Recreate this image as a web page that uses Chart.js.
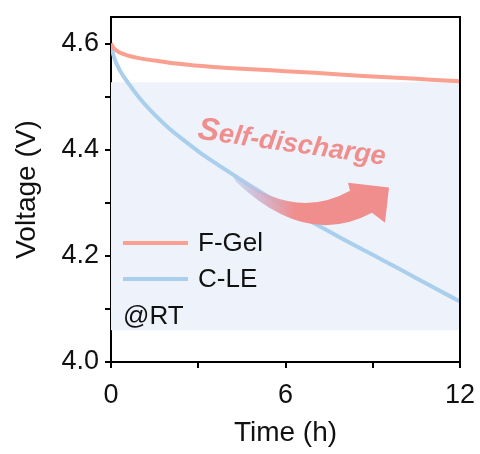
<!DOCTYPE html>
<html>
<head>
<meta charset="utf-8">
<script src="https://cdn.jsdelivr.net/npm/chart.js@4.4.1/dist/chart.umd.min.js"></script>
<style>
  html, body { margin: 0; padding: 0; background: #fff; }
</style>
</head>
<body>
<canvas id="chart" width="480" height="454"></canvas>
<script>
// data
const timeH = [0, 0.1, 0.3, 0.6, 1, 1.5, 2, 2.5, 3, 3.5, 4, 5, 6, 7, 8, 9, 10, 11, 12];
const fGel  = [4.600, 4.591, 4.583, 4.577, 4.572, 4.568, 4.564, 4.561, 4.558, 4.556, 4.554,
               4.551, 4.548, 4.545, 4.541, 4.538, 4.535, 4.532, 4.529];
const cLE   = [4.597, 4.575, 4.550, 4.525, 4.496, 4.466, 4.440, 4.418, 4.397, 4.378, 4.360,
               4.325, 4.292, 4.261, 4.231, 4.202, 4.173, 4.143, 4.114];
const seriesNames = ["F-Gel", "C-LE"];
const xTicks = [0, 3, 6, 9, 12];
const xLabels = [0, 6, 12];
const yTicks = [4.0, 4.1, 4.2, 4.3, 4.4, 4.5, 4.6];
const yLabels = ["4.0", "4.2", "4.4", "4.6"];

const RED = "#f9a090";
const BLUE = "#a9cfec";
const ARROW = "rgb(240,142,142)";
const FONT = "'Liberation Sans', Arial, sans-serif";
const tickFont = { family: FONT, size: 27 };
const titleFont = { family: FONT, size: 28 };

const ctx = document.getElementById("chart").getContext("2d");

// shaded box behind the curves, frame, arrow, label and legend
const decor = {
  id: "decor",
  beforeDatasetsDraw(chart) {
    const { ctx, scales: { x, y } } = chart;
    ctx.save();
    ctx.fillStyle = "#eef2fa";
    const x0 = x.getPixelForValue(0), x1 = x.getPixelForValue(12);
    const y0 = y.getPixelForValue(4.527), y1 = y.getPixelForValue(4.06);
    ctx.fillRect(x0, y0, x1 - x0, y1 - y0);
    ctx.restore();
  },
  afterDatasetsDraw(chart) {
    const { ctx, chartArea: a, scales: { x, y } } = chart;
    const P = (t, v) => [x.getPixelForValue(t), y.getPixelForValue(v)];

    // curved arrow
    ctx.save();
    const g = ctx.createLinearGradient(P(4.1, 0)[0], 0, P(6.3, 0)[0], 0);
    g.addColorStop(0, "rgba(169,207,236,0.6)");
    g.addColorStop(0.4, "rgba(205,180,210,0.85)");
    g.addColorStop(1, ARROW);
    ctx.fillStyle = g;
    ctx.beginPath();
    ctx.moveTo(...P(4.092, 4.3585));
    ctx.quadraticCurveTo(...P(6.292, 4.2632), ...P(8.218, 4.3226));
    ctx.lineTo(...P(8.149, 4.3377));
    ctx.lineTo(...P(9.559, 4.3289));
    ctx.lineTo(...P(9.421, 4.2623));
    ctx.lineTo(...P(8.974, 4.2811));
    ctx.quadraticCurveTo(...P(6.705, 4.2142), ...P(4.298, 4.3396));
    ctx.closePath();
    ctx.fill();
    ctx.restore();

    // "Self-discharge" label
    ctx.save();
    const [tx, ty] = P(6.22, 4.413);
    ctx.translate(tx, ty);
    ctx.rotate(8 * Math.PI / 180);
    ctx.fillStyle = ARROW;
    ctx.textBaseline = "alphabetic";
    const bigS = "italic bold 32px " + FONT;
    const rest = "italic bold 27px " + FONT;
    ctx.font = bigS;
    const wS = ctx.measureText("S").width;
    ctx.font = rest;
    const wR = ctx.measureText("elf-discharge").width;
    const sx = -(wS + wR) / 2;
    ctx.font = bigS;
    ctx.fillText("S", sx, 9);
    ctx.font = rest;
    ctx.fillText("elf-discharge", sx + wS, 9);
    ctx.restore();

    // legend inside the plot
    ctx.save();
    ctx.lineWidth = 4;
    ctx.font = "26px " + FONT;
    ctx.fillStyle = "#111";
    ctx.textBaseline = "middle";
    const lx = a.left + 12;
    [[RED, 243], [BLUE, 279]].forEach(([c, ly], i) => {
      ctx.strokeStyle = c;
      ctx.beginPath();
      ctx.moveTo(lx, ly);
      ctx.lineTo(lx + 65, ly);
      ctx.stroke();
      ctx.fillText(seriesNames[i], lx + 75, ly + 1);
    });
    ctx.fillText("@RT", lx, 317);
    ctx.restore();

    // top and right frame lines
    ctx.save();
    ctx.strokeStyle = "#000";
    ctx.lineWidth = 2;
    ctx.beginPath();
    ctx.moveTo(a.left, a.top);
    ctx.lineTo(a.right, a.top);
    ctx.lineTo(a.right, a.bottom);
    ctx.stroke();
    ctx.restore();
  }
};

new Chart(ctx, {
  type: "line",
  data: {
    datasets: [
      {
        label: seriesNames[0],
        data: timeH.map((t, i) => ({ x: t, y: fGel[i] })),
        borderColor: RED,
        borderWidth: 4,
        pointRadius: 0,
        cubicInterpolationMode: "monotone"
      },
      {
        label: seriesNames[1],
        data: timeH.map((t, i) => ({ x: t, y: cLE[i] })),
        borderColor: BLUE,
        borderWidth: 4,
        pointRadius: 0,
        cubicInterpolationMode: "monotone"
      }
    ]
  },
  options: {
    responsive: false,
    animation: false,
    devicePixelRatio: 1,
    layout: { padding: { top: 17, right: 20, left: 0, bottom: 0 } },
    plugins: { legend: { display: false }, tooltip: { enabled: false } },
    scales: {
      x: {
        type: "linear",
        min: 0,
        max: 12,
        afterBuildTicks: s => { s.ticks = xTicks.map(v => ({ value: v })); },
        afterFit: s => {
          s.height = 92;
          s.paddingLeft = 0;
          s.paddingRight = 0;
        },
        ticks: {
          callback: v => xLabels.includes(v) ? String(v) : "",
          font: tickFont,
          color: "#111",
          padding: 11,
          maxRotation: 0,
          autoSkip: false
        },
        grid: { drawOnChartArea: false, drawTicks: true, tickLength: 6, color: "#000", lineWidth: 2 },
        border: { display: true, color: "#000", width: 2 },
        title: { display: true, text: "Time (h)", font: titleFont, color: "#111", padding: { top: 4 } }
      },
      y: {
        type: "linear",
        min: 4.0,
        max: 4.65,
        afterBuildTicks: s => { s.ticks = yTicks.map(v => ({ value: v })); },
        afterFit: s => {
          s.width = 111;
          s.paddingTop = 0;
          s.paddingBottom = 0;
        },
        ticks: {
          callback: v => {
            const t = v.toFixed(1);
            return yLabels.includes(t) ? t : "";
          },
          font: tickFont,
          color: "#111",
          padding: 6,
          autoSkip: false
        },
        grid: { drawOnChartArea: false, drawTicks: true, tickLength: 6, color: "#000", lineWidth: 2 },
        border: { display: true, color: "#000", width: 2 },
        title: { display: true, text: "Voltage (V)", font: titleFont, color: "#111", padding: { top: 10, bottom: 0 } }
      }
    }
  },
  plugins: [decor]
});
</script>
</body>
</html>
